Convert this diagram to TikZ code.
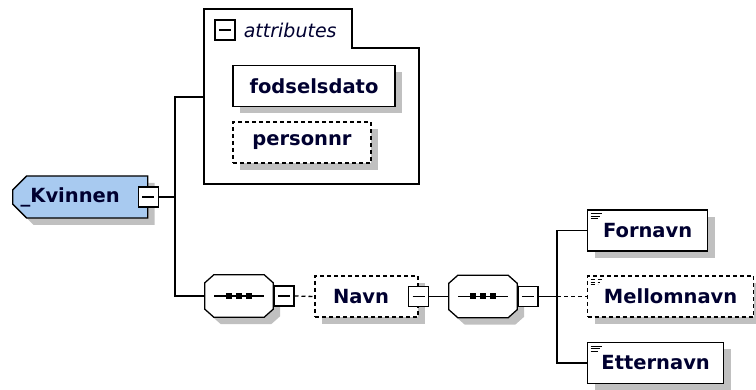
\documentclass[tikz,border=0pt]{standalone}
\usepackage{fontspec}
\setmainfont{DejaVu Sans}
\usepackage{tikz}
\usetikzlibrary{shapes.misc, shadows, positioning, backgrounds}
\definecolor{rootblue}{RGB}{168,202,240}
\definecolor{shadowgray}{RGB}{192,192,192}
\definecolor{labelnavy}{RGB}{0,0,48}

\tikzset{
  wire/.style={line width=1.3pt},
  shade box/.style={drop shadow={shadow xshift=7pt, shadow yshift=-7pt, fill=shadowgray, opacity=1}},
  box/.style={draw, line width=1.3pt, fill=white, inner sep=0pt, minimum height=41pt,
    font=\fontsize{19.5}{23}\selectfont\bfseries, text=labelnavy, shade box},
  optional/.style={dash pattern=on 4pt off 3pt},
  elem/.style={box, path picture={
    \draw[line width=1pt] ([shift={(3pt,-4pt)}]path picture bounding box.north west) -- ++(11pt,0pt);
    \draw[line width=1pt] ([shift={(3pt,-6.5pt)}]path picture bounding box.north west) -- ++(9pt,0pt);
    \draw[line width=1pt] ([shift={(3pt,-9pt)}]path picture bounding box.north west) -- ++(7pt,0pt);}},
  minusbox/.style={draw, fill=white, line width=1.3pt, minimum size=20pt, inner sep=0pt,
    path picture={\draw[line width=1.3pt] ([xshift=4pt]path picture bounding box.west) -- ([xshift=-4pt]path picture bounding box.east);}},
  seqbox/.style={rectangle, inner sep=0pt, minimum width=68pt, minimum height=42pt},
}

\begin{document}
\begin{tikzpicture}[x=1pt,y=-1pt]
  \useasboundingbox (0,0) rectangle (756,390);

  % root element
  \node[box, fill=rootblue, chamfered rectangle, chamfered rectangle corners={north west, south west},
        chamfered rectangle xsep=7pt, chamfered rectangle ysep=7pt,
        minimum height=42pt, inner xsep=1pt, text width=119pt, align=left, anchor=west]
        (kvinnen) at (12,197) {\_Kvinnen};
  \node[minusbox] (kvinnenminus) at (kvinnen.east) {};

  % attributes
  \draw[wire] (204,9) -- (352,9) -- (352,48) -- (419,48) -- (419,184) -- (204,184) -- cycle;
  \node[minusbox] (attrminus) at (225,30) {};
  \node[right=8pt of attrminus, font=\fontsize{19}{23}\selectfont\itshape, text=labelnavy, inner sep=0pt] (attrlabel) {attributes};
  \coordinate (attr) at (204,97);
  \node[box, minimum width=162pt] (fodselsdato) at (314,86) {fodselsdato};
  \node[box, optional, minimum width=138pt] (personnr) at (302,142.5) {personnr};

  % sequences
  \node[seqbox] (seq1) at (239,296) {};
  \node[minusbox, anchor=west] (seq1minus) at (seq1.east) {};
  \node[box, optional, inner xsep=18pt, text width=67pt, align=left] (navn) at (366.5,296.5) {Navn};
  \node[minusbox] (navnminus) at (navn.east) {};
  \node[seqbox] (seq2) at (483,296.5) {};
  \node[minusbox, anchor=west] (seq2minus) at (seq2.east) {};
  \begin{scope}[on background layer]
    \foreach \s in {seq1,seq2}
      \draw[wire, fill=white, shade box] ([xshift=9pt]\s.north west) -- ([xshift=-9pt]\s.north east)
        -- ([yshift=-8pt]\s.north east) -- ([yshift=8pt]\s.south east) -- ([xshift=-9pt]\s.south east)
        -- ([xshift=9pt]\s.south west) -- ([yshift=8pt]\s.south west) -- ([yshift=-8pt]\s.north west) -- cycle;
  \end{scope}
  \foreach \s in {seq1,seq2} {
    \draw[wire] ([xshift=-25pt]\s.center) -- ([xshift=25pt]\s.center);
    \foreach \dx in {-10,0,10}
      \fill[black] ([xshift=\dx pt]\s.center) +(-3pt,-3pt) rectangle +(3pt,3pt);
  }

  \node[elem, minimum width=120pt, anchor=west] (fornavn) at (587,230.5) {Fornavn};
  \node[elem, optional, minimum width=166pt, anchor=west] (mellomnavn) at (587,296.5) {Mellomnavn};
  \node[elem, minimum width=136pt, anchor=west] (etternavn) at (587,363) {Etternavn};

  % connectors
  \coordinate (fork1) at (175,197);
  \coordinate (fork2) at (557,296.5);
  \draw[wire] (kvinnenminus.east) -- (fork1);
  \draw[wire] (attr) -| (fork1) |- (seq1.west);
  \draw[wire, optional] (seq1minus.east) -- (navn.west);
  \draw[wire] (navnminus.east) -- (seq2.west);
  \draw[wire] (seq2minus.east) -- (fork2);
  \draw[wire] (fornavn.west) -| (fork2) |- (etternavn.west);
  \draw[wire, optional] (fork2) -- (mellomnavn.west);
\end{tikzpicture}
\end{document}
